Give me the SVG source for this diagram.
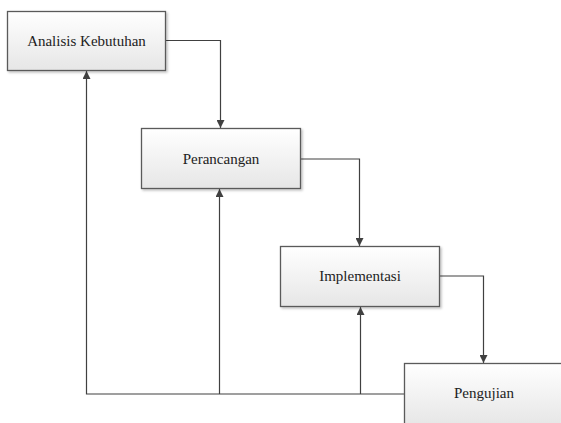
<svg xmlns="http://www.w3.org/2000/svg" width="561" height="423" viewBox="0 0 561 423">
<style>
.box{fill:url(#g);stroke:#5a5a5a;stroke-width:1.3;filter:url(#sh)}
.lbl{font-family:"Liberation Serif","DejaVu Serif","Times New Roman",serif;font-size:15px;fill:#222;text-anchor:middle}
.con{fill:none;stroke:#404040;stroke-width:1.2;marker-end:url(#ah)}
</style>
<defs>
<linearGradient id="g" x1="0" y1="0" x2="0" y2="1">
<stop offset="0" stop-color="#ffffff"/>
<stop offset="1" stop-color="#e6e6e6"/>
</linearGradient>
<filter id="sh" x="-10%" y="-10%" width="130%" height="130%">
<feDropShadow dx="1.5" dy="1.5" stdDeviation="1" flood-color="#000" flood-opacity="0.25"/>
</filter>
<marker id="ah" viewBox="0 0 10 10" refX="10" refY="5" markerWidth="8" markerHeight="8" markerUnits="userSpaceOnUse" orient="auto">
<path d="M0,0 L10,5 L0,10 z" fill="#404040"/>
</marker>
</defs>
<g id="connectors">
<path class="con" d="M165.5,40.5 H220.5 V128"/>
<path class="con" d="M300.5,159 H359.5 V246"/>
<path class="con" d="M439.5,276 H483.5 V363"/>
<path class="con" d="M404.5,394 H86.5 V71"/>
<path class="con" d="M219.5,394 V189"/>
<path class="con" d="M360.5,394 V307"/>
</g>
<g id="n1">
<rect class="box" x="7.5" y="11.5" width="158" height="59"/>
<text class="lbl" x="86.5" y="46" font-family="Liberation Serif, serif">Analisis Kebutuhan</text>
</g>
<g id="n2">
<rect class="box" x="141.5" y="128.5" width="159" height="60"/>
<text class="lbl" x="221" y="163.5" font-family="Liberation Serif, serif">Perancangan</text>
</g>
<g id="n3">
<rect class="box" x="280.5" y="246.5" width="159" height="60"/>
<text class="lbl" x="360" y="281" font-family="Liberation Serif, serif">Implementasi</text>
</g>
<g id="n4">
<rect class="box" x="404.5" y="363.5" width="160" height="62"/>
<text class="lbl" x="484" y="398" font-family="Liberation Serif, serif">Pengujian</text>
</g>
</svg>
